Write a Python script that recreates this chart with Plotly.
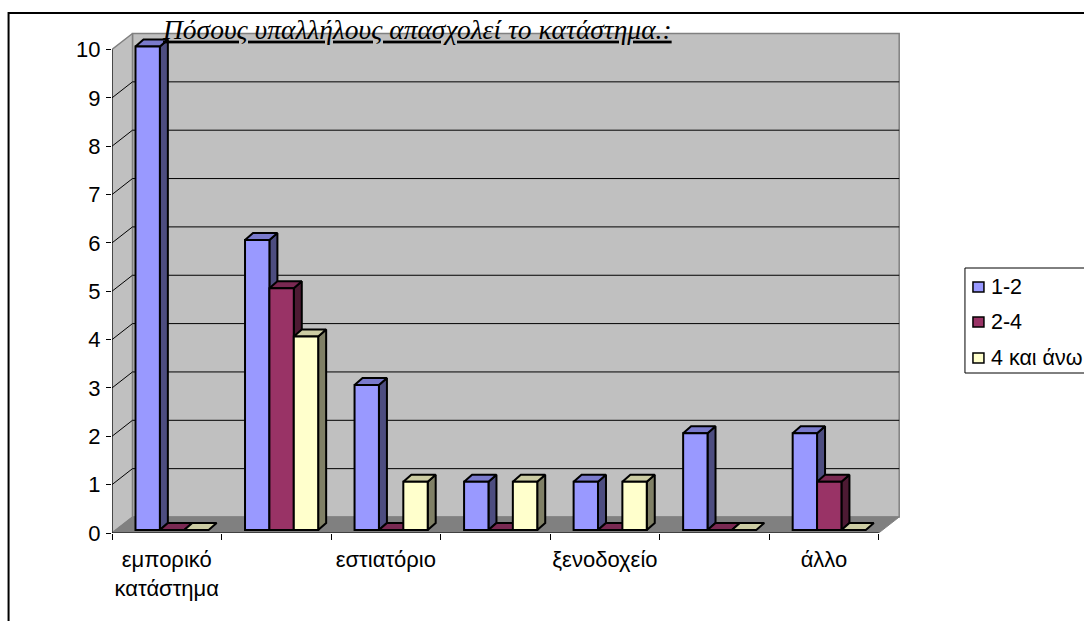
import plotly.graph_objects as go

categories = ["εμπορικό<br>κατάστημα", "", "εστιατόριο", "", "ξενοδοχείο", "", "άλλο"]
series_names = ["1-2", "2-4", "4 και άνω"]
values_1_2 = [10, 6, 3, 1, 1, 2, 2]
values_2_4 = [0, 5, 0, 0, 0, 0, 1]
values_4_up = [0, 4, 1, 1, 1, 0, 0]
y_ticks = list(range(0, 11))
title_text = "Πόσους υπαλλήλους απασχολεί το κατάστημα.:"

series = [values_1_2, values_2_4, values_4_up]
front = ["#9999FF", "#993366", "#FFFFCC"]
side = ["#4D4D80", "#4D1A33", "#808066"]
top = ["#7A7ACC", "#7A2952", "#CCCCA3"]

W, H = 1084, 621
X0, Y0 = 111.5, 533.0
UX, UY = 109.6, 48.35
L, R, T = X0, 905.0, 30.0
xmax, ymax = (R - L) / UX, (Y0 - T) / UY
n = len(categories)
bx, by = 20.5 / UX, 16 / UY          # depth of the wall box
fx, fy = 23.5 / UX, 3 / UY           # front plane of bars
dx, dy = 8 / UX, 7 / UY              # bar depth
bw = 24.4 / UX
FONT = "Liberation Sans"
FS = 22
LEG_FS = 21.5
GR = "#808080"
SW = 2

fig = go.Figure()

def poly(xs, ys, fill, line, width=1.0):
    fig.add_trace(go.Scatter(x=xs, y=ys, mode="lines", fill="toself", fillcolor=fill,
                             line=dict(color=line, width=width), hoverinfo="skip", showlegend=False))

def path(xs, ys, color, width=1.0):
    fig.add_trace(go.Scatter(x=xs, y=ys, mode="lines", line=dict(color=color, width=width),
                             hoverinfo="skip", showlegend=False))

top_v = max(y_ticks)
poly([bx, n + bx, n + bx, bx, bx], [by, by, top_v + by, top_v + by, by], "#C0C0C0", GR, 1.5)
poly([0, bx, bx, 0, 0], [0, by, top_v + by, top_v, 0], "#C0C0C0", GR, 1.5)
poly([0, n, n + bx, bx, 0], [0, 0, by, by, 0], "#808080", GR, 1)
for v in y_ticks[1:-1]:
    path([0, bx, n + bx], [v, v + by, v + by], "#000000", 1)
path([0, 0], [0, top_v], "#000000", 1)
path([0, n], [0, 0], "#000000", 1)

for s, vals in enumerate(series):
    for i, v in enumerate(vals):
        x0 = i + fx + s * bw
        x1 = x0 + bw
        if v > 0:
            poly([x1, x1 + dx, x1 + dx, x1, x1], [fy, fy + dy, fy + v + dy, fy + v, fy], side[s], "#000000", SW)
        poly([x0, x1, x1 + dx, x0 + dx, x0], [fy + v, fy + v, fy + v + dy, fy + v + dy, fy + v], top[s], "#000000", SW)

for s, vals in enumerate(series):
    fig.add_trace(go.Bar(name=series_names[s], x=[i + fx + (s + 0.5) * bw for i in range(n)], y=vals,
                         base=fy, width=bw, marker=dict(color=front[s], line=dict(color="#000000", width=SW)),
                         xaxis="x2", yaxis="y2", showlegend=False))

def pxx(p): return (p - L) / (R - L)
def pxy(p): return (Y0 - p) / (Y0 - T)

shapes = [dict(type="rect", xref="paper", yref="paper", x0=pxx(8), x1=pxx(1095), y0=pxy(13), y1=pxy(640),
               line=dict(color="#000000", width=2), layer="below"),
          dict(type="rect", xref="paper", yref="paper", x0=pxx(965), x1=pxx(1095), y0=pxy(268), y1=pxy(373),
               line=dict(color="#000000", width=1), fillcolor="#FFFFFF")]
annotations = []
for s, cy in enumerate([287, 322, 358]):
    shapes.append(dict(type="rect", xref="paper", yref="paper", x0=pxx(973), x1=pxx(984), y0=pxy(cy - 5), y1=pxy(cy + 5),
                       line=dict(color="#000000", width=1.5), fillcolor=front[s]))
    annotations.append(dict(text=series_names[s], xref="paper", yref="paper", x=pxx(989), y=pxy(cy), xanchor="left",
                            yanchor="middle", showarrow=False, font=dict(family=FONT, size=LEG_FS, color="#000000")))

fig.update_layout(
    width=W, height=H, autosize=False, paper_bgcolor="#FFFFFF", plot_bgcolor="rgba(0,0,0,0)",
    margin=dict(l=L, r=W - R, t=T, b=H - Y0, pad=0), showlegend=False, barmode="overlay",
    title=dict(text=title_text, x=163 / W, xanchor="left", xref="container", y=1 - 29 / H, yanchor="middle",
               font=dict(family="Liberation Serif", size=27.5, style="italic", lineposition="under", color="#000000")),
    xaxis=dict(range=[0, xmax], tickmode="array", tickvals=[i + 0.5 for i in range(n)], ticktext=categories,
               ticks="", ticklabelstandoff=11, showgrid=False, zeroline=False, showline=False,
               tickfont=dict(family=FONT, size=FS, color="#000000"),
               minor=dict(tickmode="array", tickvals=list(range(n + 1)), ticks="outside", ticklen=6, tickcolor="#000000", tickwidth=1, showgrid=False)),
    yaxis=dict(range=[0, ymax], tickmode="array", tickvals=y_ticks, ticktext=[str(v) for v in y_ticks],
               ticks="outside", ticklen=5, tickcolor="#000000", tickwidth=1, showgrid=False, zeroline=False, showline=False,
               ticklabelstandoff=1, tickfont=dict(family=FONT, size=FS, color="#000000")),
    xaxis2=dict(range=[0, xmax], overlaying="x", visible=False),
    yaxis2=dict(range=[0, ymax], overlaying="y", visible=False),
    shapes=shapes, annotations=annotations,
)
fig.write_html("out.html", config=dict(displayModeBar=False),
               post_script="document.body.style.margin='0';document.body.style.overflow='hidden';")
